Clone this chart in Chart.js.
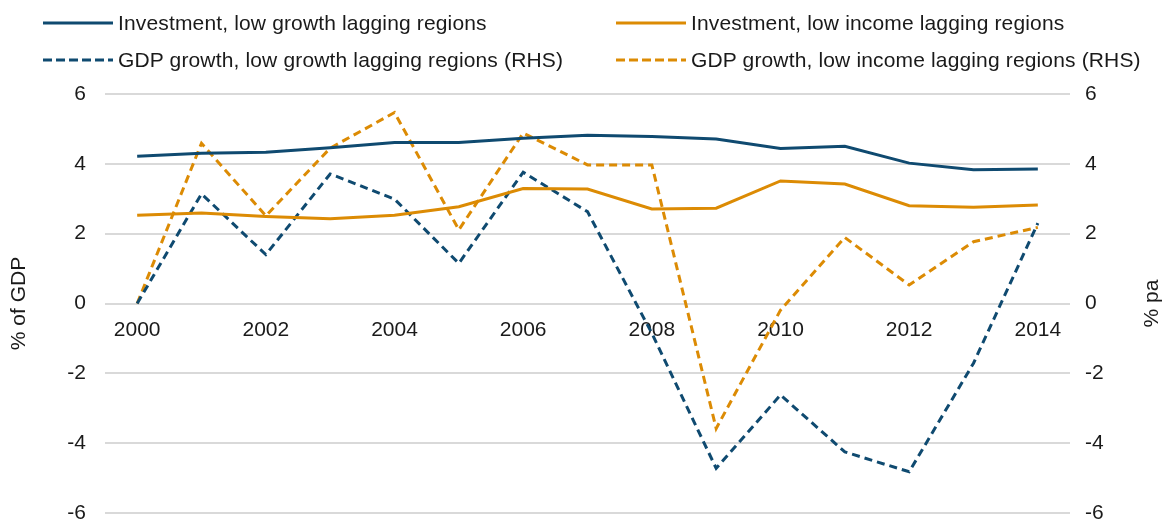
<!DOCTYPE html>
<html>
<head>
<meta charset="utf-8">
<script src="https://cdn.jsdelivr.net/npm/chart.js@4.4.1/dist/chart.umd.min.js"></script>
<style>
  html, body { margin: 0; padding: 0; background: #fff; }
  #wrap { position: relative; width: 1175px; height: 522px; }
  .leg {
    position: absolute; display: flex; align-items: center; height: 24px;
    font: 21px "Liberation Sans", Arial, sans-serif; color: #1a1a1a;
    letter-spacing: 0.15px; white-space: nowrap;
  }
  .leg svg { margin-right: 5px; }
</style>
</head>
<body>
<div id="wrap">
  <canvas id="grafico"></canvas>
  <div id="leyenda"></div>
</div>
<script>
// datos
const YEARS = ['2000','2001','2002','2003','2004','2005','2006','2007','2008','2009','2010','2011','2012','2013','2014'];
const INV_LOW_GROWTH = [4.22, 4.30, 4.33, 4.46, 4.61, 4.61, 4.73, 4.82, 4.78, 4.71, 4.44, 4.50, 4.02, 3.83, 3.85];
const INV_LOW_INCOME = [2.53, 2.59, 2.49, 2.43, 2.53, 2.77, 3.29, 3.28, 2.71, 2.73, 3.51, 3.42, 2.80, 2.76, 2.82];
const GDP_LOW_GROWTH = [0, 3.14, 1.40, 3.71, 2.99, 1.15, 3.76, 2.63, -0.85, -4.72, -2.62, -4.25, -4.82, -1.71, 2.30];
const GDP_LOW_INCOME = [0, 4.59, 2.51, 4.45, 5.47, 2.11, 4.88, 3.97, 3.97, -3.58, -0.19, 1.89, 0.53, 1.77, 2.18];

const NAVY = '#0f4a70';
const ORANGE = '#dc8b04';
const FONT = '"Liberation Sans", Arial, sans-serif';

const SERIES = [
  { label: 'Investment, low growth lagging regions',        data: INV_LOW_GROWTH, color: NAVY,   dash: [],    axis: 'y' },
  { label: 'Investment, low income lagging regions',        data: INV_LOW_INCOME, color: ORANGE, dash: [],    axis: 'y' },
  { label: 'GDP growth, low growth lagging regions (RHS)',  data: GDP_LOW_GROWTH, color: NAVY,   dash: [8, 5], axis: 'y1' },
  { label: 'GDP growth, low income lagging regions (RHS)',  data: GDP_LOW_INCOME, color: ORANGE, dash: [8, 5], axis: 'y1' },
];

// leyenda en html, dos columnas
const LEG_POS = [[43, 11], [616, 11], [43, 48], [616, 48]];
function renderLeyenda() {
  const cont = document.getElementById('leyenda');
  cont.innerHTML = SERIES.map((s, i) => {
    const [x, y] = LEG_POS[i];
    const da = s.dash.length ? 'stroke-dasharray="9 4"' : '';
    return `<div class="leg" style="left:${x}px;top:${y}px">
      <svg width="70" height="6"><line x1="0" y1="3" x2="70" y2="3" stroke="${s.color}" stroke-width="3" ${da}/></svg>
      <span>${s.label}</span></div>`;
  }).join('');
}

// titulo del eje derecho girado como en el original
const tituloDerecho = {
  id: 'tituloDerecho',
  afterDraw(chart) {
    const {ctx, chartArea} = chart;
    ctx.save();
    ctx.translate(1152, (chartArea.top + chartArea.bottom) / 2);
    ctx.rotate(-Math.PI / 2);
    ctx.font = `21px ${FONT}`;
    ctx.fillStyle = '#1a1a1a';
    ctx.textAlign = 'center';
    ctx.textBaseline = 'middle';
    ctx.fillText('% pa', 0, 0);
    ctx.restore();
  }
};

// ancho fijo del eje y sin relleno extra arriba/abajo
const ajustaEje = s => { s.width = 105; s.paddingTop = 0; s.paddingBottom = 0; };

Chart.defaults.font.family = FONT;
Chart.defaults.font.size = 21;
Chart.defaults.color = '#1a1a1a';

new Chart(document.getElementById('grafico'), {
  type: 'line',
  data: {
    labels: YEARS,
    datasets: SERIES.map(s => ({
      label: s.label,
      data: s.data,
      borderColor: s.color,
      backgroundColor: s.color,
      borderWidth: 3,
      borderDash: s.dash,
      pointRadius: 0,
      tension: 0,
      yAxisID: s.axis
    }))
  },
  options: {
    responsive: true,
    maintainAspectRatio: false,
    animation: false,
    layout: { padding: { top: 94, bottom: 9, left: 0, right: 0 } },
    plugins: { legend: { display: false }, tooltip: { enabled: false } },
    scales: {
      x: {
        position: { y: 0 },
        offset: true,
        afterFit: s => { s.height = 0; },
        grid: { display: false, drawTicks: false },
        border: { display: false },
        ticks: {
          autoSkip: false, maxRotation: 0, padding: 14,
          callback: (v, i) => (i % 2 === 0 ? YEARS[i] : null)
        }
      },
      y: {
        position: 'left',
        min: -6, max: 6,
        afterFit: ajustaEje,
        grid: { color: '#d9d9d9', lineWidth: 2, drawTicks: false },
        border: { display: false },
        ticks: { stepSize: 2, padding: 19 },
        title: { display: true, text: '% of GDP', padding: { top: 7, bottom: 0 } }
      },
      y1: {
        position: 'right',
        min: -6, max: 6,
        afterFit: ajustaEje,
        grid: { display: false, drawTicks: false },
        border: { display: false },
        ticks: { stepSize: 2, padding: 15 }
      }
    }
  },
  plugins: [tituloDerecho]
});

renderLeyenda();
</script>
</body>
</html>
